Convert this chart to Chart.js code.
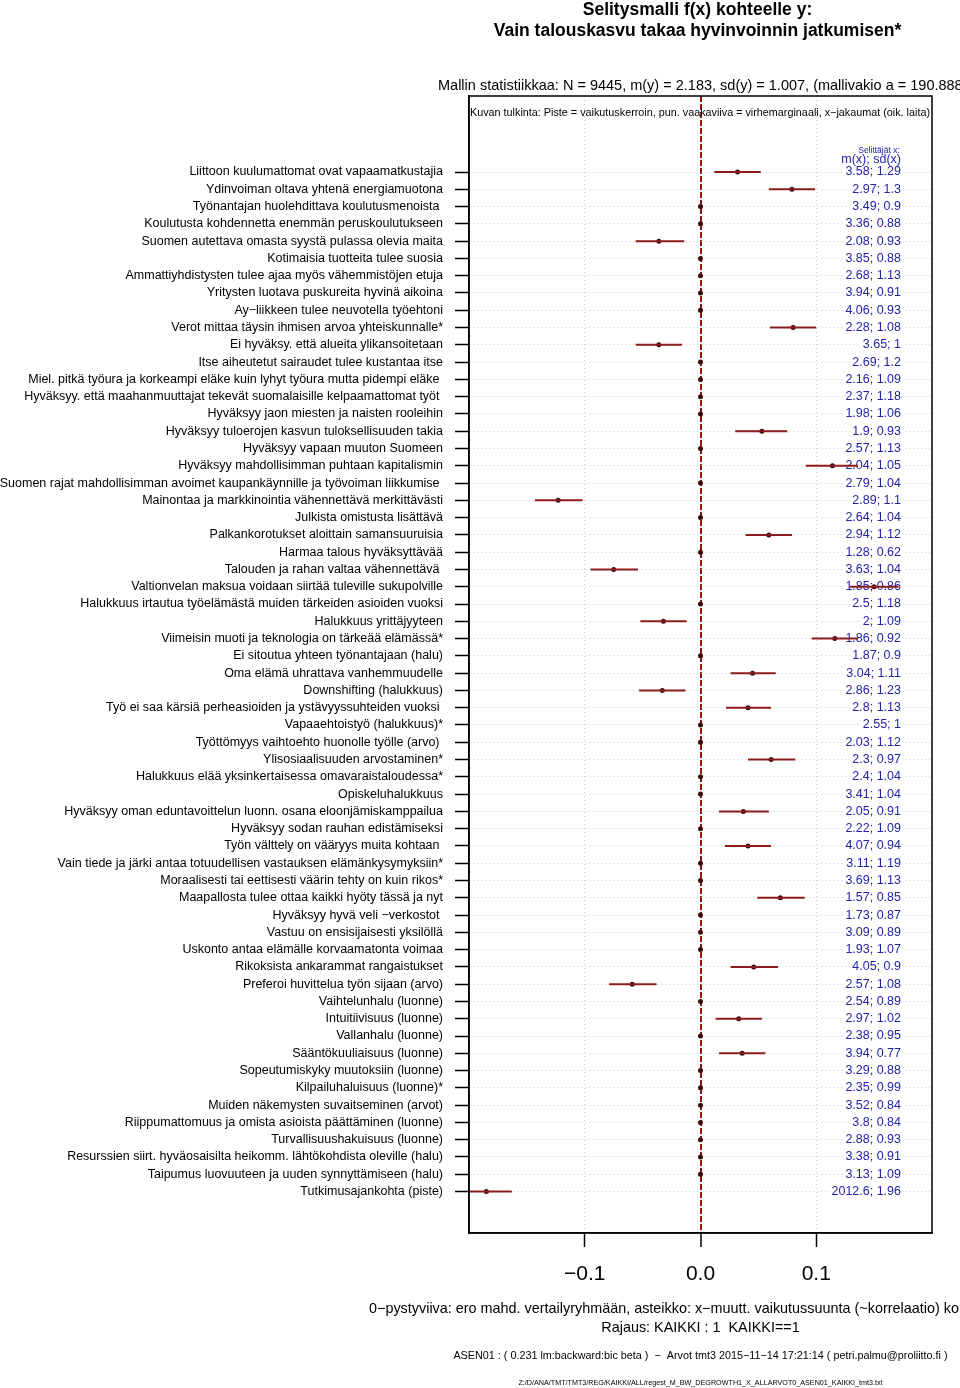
<!DOCTYPE html>
<html>
<head>
<meta charset="utf-8">
<title>Selitysmalli f(x) kohteelle y</title>
<script src="https://cdn.jsdelivr.net/npm/chart.js"></script>
<style>
  html, body { margin: 0; padding: 0; background: #fff; }
  #wrap { width: 960px; height: 1388px; }
</style>
</head>
<body>
<div id="wrap"><canvas id="chart" width="960" height="1388"></canvas></div>
<script>
// Selittäjät (rivit ylhäältä alas)
const categories = [
  'Liittoon kuulumattomat ovat vapaamatkustajia',
  'Ydinvoiman oltava yhtenä energiamuotona',
  'Työnantajan huolehdittava koulutusmenoista ',
  'Koulutusta kohdennetta enemmän peruskoulutukseen',
  'Suomen autettava omasta syystä pulassa olevia maita',
  'Kotimaisia tuotteita tulee suosia',
  'Ammattiyhdistysten tulee ajaa myös vähemmistöjen etuja',
  'Yritysten luotava puskureita hyvinä aikoina',
  'Ay\u2212liikkeen tulee neuvotella työehtoni',
  'Verot mittaa täysin ihmisen arvoa yhteiskunnalle*',
  'Ei hyväksy. että alueita ylikansoitetaan',
  'Itse aiheutetut sairaudet tulee kustantaa itse',
  'Miel. pitkä työura ja korkeampi eläke kuin lyhyt työura mutta pidempi eläke ',
  'Hyväksyy. että maahanmuuttajat tekevät suomalaisille kelpaamattomat työt ',
  'Hyväksyy jaon miesten ja naisten rooleihin',
  'Hyväksyy tuloerojen kasvun tuloksellisuuden takia',
  'Hyväksyy vapaan muuton Suomeen',
  'Hyväksyy mahdollisimman puhtaan kapitalismin',
  'Suomen rajat mahdollisimman avoimet kaupankäynnille ja työvoiman liikkumise ',
  'Mainontaa ja markkinointia vähennettävä merkittävästi',
  'Julkista omistusta lisättävä',
  'Palkankorotukset aloittain samansuuruisia',
  'Harmaa talous hyväksyttävää',
  'Talouden ja rahan valtaa vähennettävä ',
  'Valtionvelan maksua voidaan siirtää tuleville sukupolville',
  'Halukkuus irtautua työelämästä muiden tärkeiden asioiden vuoksi',
  'Halukkuus yrittäjyyteen',
  'Viimeisin muoti ja teknologia on tärkeää elämässä*',
  'Ei sitoutua yhteen työnantajaan (halu)',
  'Oma elämä uhrattava vanhemmuudelle',
  'Downshifting (halukkuus)',
  'Työ ei saa kärsiä perheasioiden ja ystävyyssuhteiden vuoksi ',
  'Vapaaehtoistyö (halukkuus)*',
  'Työttömyys vaihtoehto huonolle työlle (arvo) ',
  'Ylisosiaalisuuden arvostaminen*',
  'Halukkuus elää yksinkertaisessa omavaraistaloudessa*',
  'Opiskeluhalukkuus',
  'Hyväksyy oman eduntavoittelun luonn. osana eloonjämiskamppailua',
  'Hyväksyy sodan rauhan edistämiseksi',
  'Työn välttely on vääryys muita kohtaan ',
  'Vain tiede ja järki antaa totuudellisen vastauksen elämänkysymyksiin*',
  'Moraalisesti tai eettisesti väärin tehty on kuin rikos*',
  'Maapallosta tulee ottaa kaikki hyöty tässä ja nyt',
  'Hyväksyy hyvä veli \u2212verkostot ',
  'Vastuu on ensisijaisesti yksilöllä',
  'Uskonto antaa elämälle korvaamatonta voimaa',
  'Rikoksista ankarammat rangaistukset',
  'Preferoi huvittelua työn sijaan (arvo)',
  'Vaihtelunhalu (luonne)',
  'Intuitiivisuus (luonne)',
  'Vallanhalu (luonne)',
  'Sääntökuuliaisuus (luonne)',
  'Sopeutumiskyky muutoksiin (luonne)',
  'Kilpailuhaluisuus (luonne)*',
  'Muiden näkemysten suvaitseminen (arvot)',
  'Riippumattomuus ja omista asioista päättäminen (luonne)',
  'Turvallisuushakuisuus (luonne)',
  'Resurssien siirt. hyväosaisilta heikomm. lähtökohdista oleville (halu)',
  'Taipumus luovuuteen ja uuden synnyttämiseen (halu)',
  'Tutkimusajankohta (piste)'
]

// Vaikutuskerroin (piste), 0 = ei mallissa
const estimate = [
  0.032, 0.079, 0, 0, -0.036, 0, 0, 0, 0, 0.080,
  -0.036, 0, 0, 0, 0, 0.053, 0, 0.114, 0, -0.123,
  0, 0.059, 0, -0.075, 0.150, 0, -0.032, 0.116, 0, 0.045,
  -0.033, 0.041, 0, 0, 0.061, 0, 0, 0.037, 0, 0.041,
  0, 0, 0.069, 0, 0, 0, 0.046, -0.059, 0, 0.033,
  0, 0.036, 0, 0, 0, 0, 0, 0, 0, -0.185
]

// Virhemarginaalin ala- ja yläraja (null = ei vaakaviivaa)
const lower = [
  0.012, 0.059, null, null, -0.056, null, null, null, null, 0.060,
  -0.056, null, null, null, null, 0.030, null, 0.091, null, -0.143,
  null, 0.039, null, -0.095, 0.129, null, -0.052, 0.096, null, 0.026,
  -0.053, 0.022, null, null, 0.041, null, null, 0.016, null, 0.021,
  null, null, 0.049, null, null, null, 0.026, -0.079, null, 0.013,
  null, 0.016, null, null, null, null, null, null, null, -0.207
]
const upper = [
  0.052, 0.099, null, null, -0.014, null, null, null, null, 0.100,
  -0.016, null, null, null, null, 0.075, null, 0.136, null, -0.102,
  null, 0.079, null, -0.054, 0.171, null, -0.012, 0.136, null, 0.065,
  -0.013, 0.061, null, null, 0.082, null, null, 0.059, null, 0.061,
  null, null, 0.090, null, null, null, 0.067, -0.038, null, 0.053,
  null, 0.056, null, null, null, null, null, null, null, -0.163
]

// Selittäjien jakaumat: m(x) ja sd(x)
const meanX = [
  3.58, 2.97, 3.49, 3.36, 2.08, 3.85, 2.68, 3.94, 4.06, 2.28,
  3.65, 2.69, 2.16, 2.37, 1.98, 1.9, 2.57, 2.04, 2.79, 2.89,
  2.64, 2.94, 1.28, 3.63, 1.85, 2.5, 2, 1.86, 1.87, 3.04,
  2.86, 2.8, 2.55, 2.03, 2.3, 2.4, 3.41, 2.05, 2.22, 4.07,
  3.11, 3.69, 1.57, 1.73, 3.09, 1.93, 4.05, 2.57, 2.54, 2.97,
  2.38, 3.94, 3.29, 2.35, 3.52, 3.8, 2.88, 3.38, 3.13, 2012.6
]
const sdX = [
  1.29, 1.3, 0.9, 0.88, 0.93, 0.88, 1.13, 0.91, 0.93, 1.08,
  1, 1.2, 1.09, 1.18, 1.06, 0.93, 1.13, 1.05, 1.04, 1.1,
  1.04, 1.12, 0.62, 1.04, 0.86, 1.18, 1.09, 0.92, 0.9, 1.11,
  1.23, 1.13, 1, 1.12, 0.97, 1.04, 1.04, 0.91, 1.09, 0.94,
  1.19, 1.13, 0.85, 0.87, 0.89, 1.07, 0.9, 1.08, 0.89, 1.02,
  0.95, 0.77, 0.88, 0.99, 0.84, 0.84, 0.93, 0.91, 1.09, 1.96
]

const xTicks = [-0.1, 0, 0.1]

const FONT = '"Liberation Sans", Arial, Helvetica, sans-serif'
const blue = '#2323a8'
const barRed = '#8c1c1c'
const dotColor = '#3d0a0a'

// rivinumerot 1..60 y-akselille
const rows = categories.map((_, i) => i + 1)

// vaakaviivat yhtenä viivana, katkot null-pisteillä
const ciData = []
rows.forEach((r, i) => {
  if (lower[i] === null) return
  ciData.push({ x: lower[i], y: r })
  ciData.push({ x: upper[i], y: r })
  ciData.push({ x: null, y: null })
})

const pointData = rows.map((r, i) => ({ x: estimate[i], y: r }))

// Tekstit ja kehys
const textPlugin = {
  id: 'pageTexts',
  beforeDatasetsDraw(chart) {
    const { ctx, chartArea, scales: { y } } = chart
    const rightX = chartArea.right - 31
    ctx.save()
    ctx.textAlign = 'right'
    ctx.textBaseline = 'middle'
    ctx.font = '12.5px ' + FONT
    rows.forEach((r, i) => {
      const txt = meanX[i] + '; ' + sdX[i]
      const py = y.getPixelForValue(r)
      const w = ctx.measureText(txt).width
      ctx.fillStyle = '#fff'
      ctx.fillRect(rightX - w - 2, py - 6, w + 4, 12)
      ctx.fillStyle = blue
      ctx.fillText(txt, rightX, py)
    })
    // sarakkeen otsikko
    ctx.fillStyle = blue
    ctx.font = '12.5px ' + FONT
    ctx.fillText('m(x); sd(x)', rightX, chartArea.top + 64)
    ctx.textAlign = 'center'
    ctx.font = '8.5px ' + FONT
    ctx.fillText('Selittäjät x:', rightX - 22, chartArea.top + 55)
    // kuvan tulkinta
    ctx.fillStyle = '#000'
    ctx.textAlign = 'left'
    ctx.font = '10.8px ' + FONT
    ctx.fillText('Kuvan tulkinta: Piste = vaikutuskerroin, pun. vaakaviiva = virhemarginaali, x\u2212jakaumat (oik. laita)', chartArea.left + 1, chartArea.top + 17)
    ctx.restore()
  },
  afterDraw(chart) {
    const { ctx, chartArea } = chart
    ctx.save()
    ctx.strokeStyle = '#000'
    ctx.lineWidth = 1.5
    ctx.strokeRect(chartArea.left, chartArea.top, chartArea.right - chartArea.left, chartArea.bottom - chartArea.top)

    const cx = (chartArea.left + chartArea.right) / 2
    ctx.fillStyle = '#000'
    ctx.textBaseline = 'middle'
    ctx.textAlign = 'center'
    ctx.font = 'bold 17.5px ' + FONT
    ctx.fillText('Selitysmalli f(x) kohteelle y:', cx - 3, 10)
    ctx.fillText('Vain talouskasvu takaa hyvinvoinnin jatkumisen*', cx - 3, 31)

    ctx.textAlign = 'left'
    ctx.font = '14.5px ' + FONT
    ctx.fillText('Mallin statistiikkaa: N = 9445, m(y) = 2.183, sd(y) = 1.007, (mallivakio a = 190.888)', 438, 86)

    ctx.font = '14.4px ' + FONT
    ctx.fillText('0\u2212pystyviiva: ero mahd. vertailyryhmään, asteikko: x\u2212muutt. vaikutussuunta (~korrelaatio) kohteeseen y', 369, 1309)
    ctx.textAlign = 'center'
    ctx.fillText('Rajaus: KAIKKI : 1  KAIKKI==1', cx, 1328)

    ctx.font = '10.8px ' + FONT
    ctx.fillText('ASEN01 : ( 0.231 lm:backward:bic beta )  \u2212  Arvot tmt3 2015\u221211\u221214 17:21:14 ( petri.palmu@proliitto.fi )', cx, 1356)
    ctx.font = '7.2px ' + FONT
    ctx.fillText('Z:/D/ANA/TMT/TMT3/REG/KAIKKI/ALL/regest_M_BW_DEGROWTH1_X_ALLARVOT0_ASEN01_KAIKKI_tmt3.txt', cx, 1383)
    ctx.restore()
  }
}

const config = {
  type: 'scatter',
  data: {
    datasets: [
      {
        type: 'line',
        label: 'virhemarginaali',
        data: ciData,
        borderColor: barRed,
        borderWidth: 2,
        pointRadius: 0,
        showLine: true,
        spanGaps: false,
        tension: 0,
        clip: 0
      },
      {
        label: 'vaikutuskerroin',
        data: pointData,
        pointRadius: 2.5,
        pointHoverRadius: 2.5,
        backgroundColor: dotColor,
        borderColor: dotColor,
        borderWidth: 0
      }
    ]
  },
  options: {
    responsive: false,
    animation: false,
    layout: { padding: { top: 96, right: 28, left: 0, bottom: 0 } },
    plugins: {
      legend: { display: false },
      tooltip: { enabled: false },
      title: { display: false }
    },
    scales: {
      x: {
        type: 'linear',
        min: -0.2,
        max: 0.2,
        afterBuildTicks: (scale) => { scale.ticks = xTicks.map(v => ({ value: v })) },
        afterFit: (scale) => { scale.height = 155 },
        grid: {
          color: (c) => c.tick && c.tick.value === 0 ? '#8c1414' : '#c9c9c9',
          lineWidth: (c) => c.tick && c.tick.value === 0 ? 2 : 1,
          tickColor: '#000',
          tickWidth: 1.5,
          tickLength: 14
        },
        border: {
          color: '#000',
          width: 1.5,
          dash: (c) => c.tick && c.tick.value === 0 ? [6, 2] : [1, 3]
        },
        ticks: {
          color: '#000',
          padding: 15,
          font: { family: FONT, size: 21 },
          callback: (v) => v.toFixed(1).replace('-', '\u2212')
        }
      },
      y: {
        type: 'linear',
        reverse: true,
        min: -3.4,
        max: 62.4,
        afterBuildTicks: (scale) => { scale.ticks = rows.map(v => ({ value: v })) },
        afterFit: (scale) => { scale.width = 469 },
        grid: {
          color: '#c9c9c9',
          lineWidth: 1,
          tickColor: '#000',
          tickWidth: 1.5,
          tickLength: 14
        },
        border: {
          color: '#000',
          width: 1.5,
          dash: [1, 3]
        },
        ticks: {
          autoSkip: false,
          color: '#000',
          padding: 12,
          font: { family: FONT, size: 12.5 },
          callback: (v) => categories[v - 1]
        }
      }
    }
  },
  plugins: [textPlugin]
}

new Chart(document.getElementById('chart'), config)
</script>
</body>
</html>
